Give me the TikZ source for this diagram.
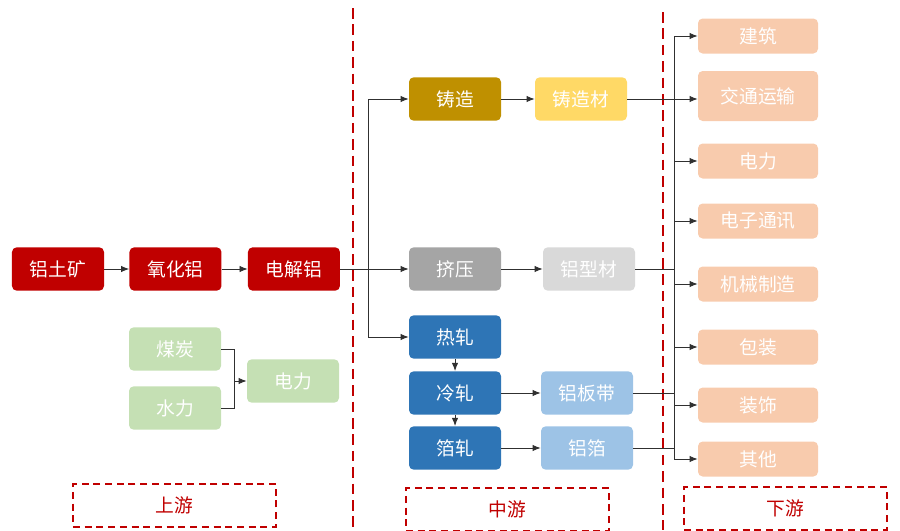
\documentclass[tikz,border=0pt]{standalone}
\usepackage{fontspec}
\setmainfont{Noto Sans CJK SC}
\usepackage{xcolor}
\usetikzlibrary{arrows.meta,positioning}

\definecolor{upred}{HTML}{C00000}
\definecolor{castgold}{HTML}{BF9000}
\definecolor{castlight}{HTML}{FFD966}
\definecolor{extgray}{HTML}{A5A5A5}
\definecolor{extlight}{HTML}{D9D9D9}
\definecolor{rollblue}{HTML}{2E75B6}
\definecolor{rolllight}{HTML}{9DC3E6}
\definecolor{powgreen}{HTML}{C5E0B4}
\definecolor{usepeach}{HTML}{F8CBAD}
\definecolor{linegray}{HTML}{303030}

\begin{document}
\begin{tikzpicture}[x=0.03cm,y=-0.03cm,
  box/.style={rounded corners=4pt,text=white,inner sep=0pt,
    minimum width=2.76cm,minimum height=1.3cm,
    font=\fontsize{16}{16}\selectfont},
  usebox/.style={box,fill=usepeach,minimum width=3.6cm,minimum height=1.05cm},
  stage/.style={draw=upred,dashed,line width=1.2pt,dash pattern=on 6pt off 4pt,
    text=upred,minimum width=6.09cm,minimum height=1.29cm,
    font=\fontsize{16}{16}\selectfont},
  arr/.style={-{Latex[length=7pt,width=5.5pt]}},
  link/.style={draw=linegray,line width=0.8pt}]
  \useasboundingbox (0,0) rectangle (900,530);

  % Draw stage borders
  \coordinate (sa1) at (353,8);   \coordinate (sa2) at (353,530);
  \coordinate (sb1) at (663,12);  \coordinate (sb2) at (663,530);
  \draw[upred,line width=2.4pt,dash pattern=on 9pt off 5pt] (sa1) -- (sa2);
  \draw[upred,line width=2.4pt,dash pattern=on 9pt off 5pt] (sb1) -- (sb2);

  % Upstream
  \node[box,fill=upred] (ore) at (58,269) {铝土矿};
  \node[box,fill=upred,right=0.75cm of ore] (alumina) {氧化铝};
  \node[box,fill=upred,right=0.78cm of alumina] (elec) {电解铝};
  \node[box,fill=powgreen] (coal) at (175,349) {煤炭};
  \node[box,fill=powgreen] (water) at (175,408) {水力};
  \node[box,fill=powgreen] (power) at (293,381) {电力};
  \coordinate (pj) at (234,381);

  \draw[link,arr] (ore) -- (alumina);
  \draw[link,arr] (alumina) -- (elec);
  \draw[link] (coal.east) -| (pj);
  \draw[link] (water.east) -| (pj);
  \draw[link,arr] (pj) -- (power);

  % Midstream
  \node[box,fill=castgold] (cast) at (455,99) {铸造};
  \node[box,fill=castlight] (castm) at (581,99) {铸造材};
  \node[box,fill=extgray] (extr) at (455,269) {挤压};
  \node[box,fill=extlight] (prof) at (589,269) {铝型材};
  \node[box,fill=rollblue] (hot) at (455,337) {热轧};
  \node[box,fill=rollblue] (cold) at (455,393) {冷轧};
  \node[box,fill=rollblue] (foilr) at (455,448) {箔轧};
  \node[box,fill=rolllight] (sheet) at (587,393) {铝板带};
  \node[box,fill=rolllight] (foil) at (587,448) {铝箔};
  \coordinate (mj) at (368,269);

  \draw[link,arr] (elec) -- (extr);
  \draw[link,arr] (mj) |- (cast);
  \draw[link,arr] (mj) |- (hot);
  \draw[link,arr] (cast) -- (castm);
  \draw[link,arr] (extr) -- (prof);
  \draw[link,arr] (hot) -- (cold);
  \draw[link,arr] (cold) -- (foilr);
  \draw[link,arr] (cold) -- (sheet);
  \draw[link,arr] (foilr) -- (foil);

  % Downstream
  \node[usebox] (d1) at (758,36) {建筑};
  \node[usebox,minimum height=1.5cm] (d2) at (758,96) {交通运输};
  \node[usebox] (d3) at (758,161) {电力};
  \node[usebox] (d4) at (758,221) {电子通讯};
  \node[usebox] (d5) at (758,284) {机械制造};
  \node[usebox] (d6) at (758,347) {包装};
  \node[usebox] (d7) at (758,405) {装饰};
  \node[usebox] (d8) at (758,459) {其他};
  \coordinate (dtop) at (674,36);
  \coordinate (dbot) at (674,459);

  \draw[link] (dtop) -- (dbot);
  \foreach \d in {d1,d3,d4,d5,d6,d7,d8}
    \draw[link,arr] (dtop |- \d.west) -- (\d.west);
  \draw[link,arr] (castm.east) -- (d2.west |- castm.east);
  \draw[link] (prof.east) -- (dtop |- prof.east);
  \draw[link] (sheet.east) -- (dtop |- sheet.east);
  \draw[link] (foil.east) -- (dtop |- foil.east);

  % Stage labels
  \node[stage] (up) at (174.5,505.5) {上游};
  \node[stage] (mid) at (507.5,509.5) {中游};
  \node[stage] (down) at (785.5,508.5) {下游};
\end{tikzpicture}
\end{document}
